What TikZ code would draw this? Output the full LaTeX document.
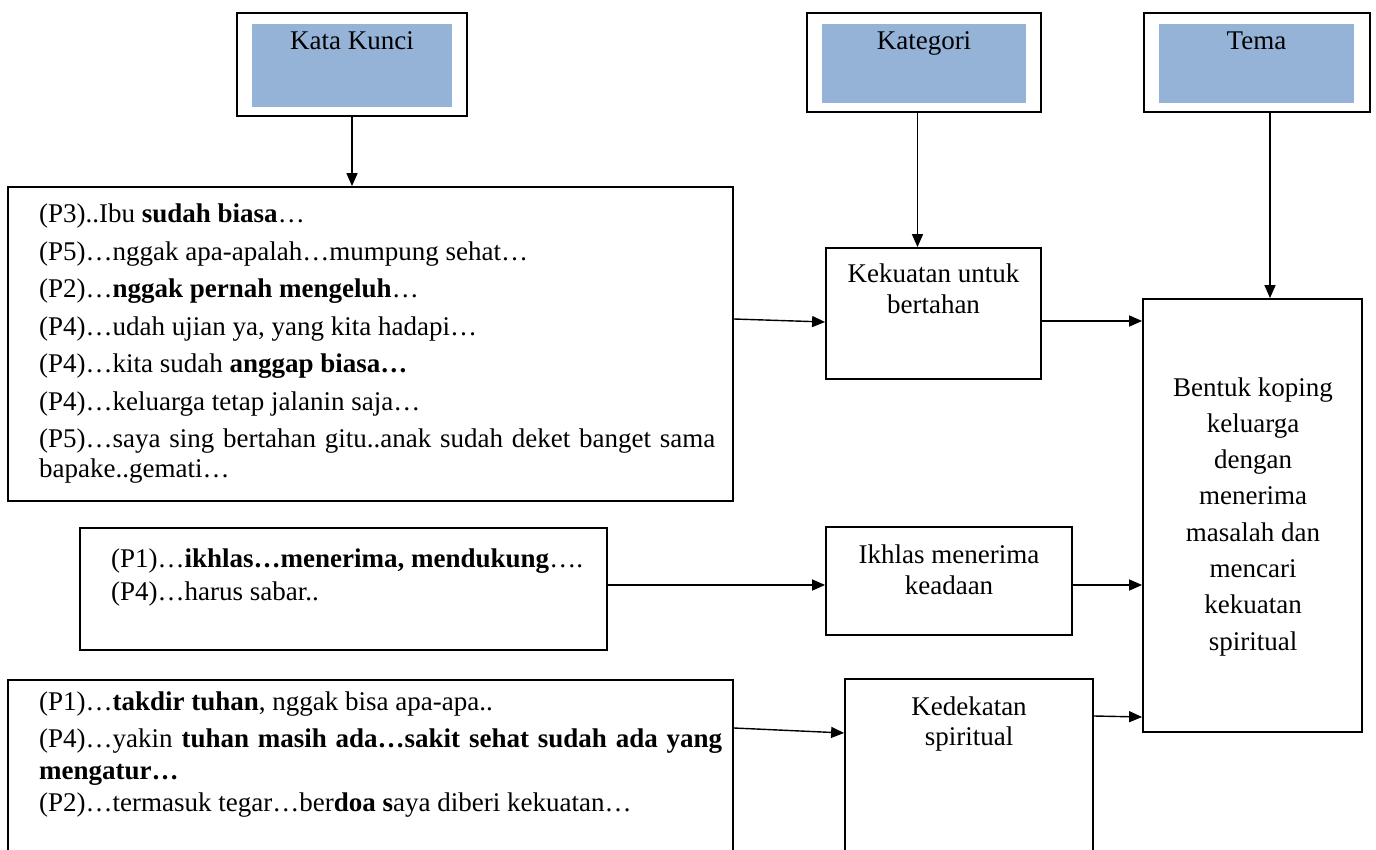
\documentclass[tikz,border=0pt]{standalone}
\usepackage{fontspec}
\setmainfont{Liberation Serif}
\usetikzlibrary{arrows.meta}
\definecolor{hdrblue}{HTML}{95B3D7}
\begin{document}
\begin{tikzpicture}[x=1pt,y=-1pt,
  font=\fontsize{27}{31}\selectfont,
  box/.style={draw=black,line width=1.8pt,inner sep=0pt,rectangle},
  hdr/.style={fill=hdrblue,inner sep=0pt,rectangle},
  txt/.style={anchor=base west,inner sep=0pt},
  ctr/.style={anchor=base,inner sep=0pt},
  arr/.style={line width=1.4pt,-{Triangle[length=13pt,width=11pt]}}]
\useasboundingbox (0,0) rectangle (1376,850);
\fill[white] (0,0) rectangle (1376,850);
\clip (0,0) rectangle (1376,850);

% header boxes
\node[box,minimum width=230pt,minimum height=103pt] (kkO) at (352,64.5) {};
\node[hdr,minimum width=200pt,minimum height=83pt] (kkI) at (352,65.5) {};
\node[ctr] (kkT) at (352,50) {Kata Kunci};
\node[box,minimum width=234pt,minimum height=99pt] (katO) at (924,62.5) {};
\node[hdr,minimum width=204pt,minimum height=79pt] (katI) at (924,63.5) {};
\node[ctr] (katT) at (924,50) {Kategori};
\node[box,minimum width=226pt,minimum height=99pt] (temO) at (1257,62.5) {};
\node[hdr,minimum width=195pt,minimum height=79pt] (temI) at (1256.5,63.5) {};
\node[ctr] (temT) at (1256.5,50) {Tema};

% quote boxes
\node[box,minimum width=725pt,minimum height=314pt] (b1) at (370.5,344) {};
\node[box,minimum width=527pt,minimum height=122pt] (b2) at (343.5,589) {};
\node[box,minimum width=725pt,minimum height=220pt] (b3) at (370.5,790) {};

% category boxes
\node[box,minimum width=215pt,minimum height=131pt] (kek) at (933.5,313.5) {};
\node[box,minimum width=246pt,minimum height=108pt] (ikh) at (949,581) {};
\node[box,minimum width=248pt,minimum height=221pt] (ked) at (969,789.5) {};
\node[box,minimum width=219pt,minimum height=433pt] (big) at (1252.5,515.5) {};

% box 1 text
\node[txt] (l1) at (39,223) {(P3)..Ibu \textbf{sudah biasa}…};
\node[txt] (l2) at (39,260.5) {(P5)…nggak apa-apalah…mumpung sehat…};
\node[txt] (l3) at (39,298) {(P2)…\textbf{nggak pernah mengeluh}…};
\node[txt] (l4) at (39,335) {(P4)…udah ujian ya, yang kita hadapi…};
\node[txt] (l5) at (39,372.5) {(P4)…kita sudah \textbf{anggap biasa…}};
\node[txt] (l6) at (39,410) {(P4)…keluarga tetap jalanin saja…};
\node[txt] (l7) at (39,447) {\makebox[676pt][s]{(P5)…saya sing bertahan gitu..anak sudah deket banget sama}};
\node[txt] (l8) at (39,477) {bapake..gemati…};

% box 2 text
\node[txt] (m1) at (111,567) {(P1)…\textbf{ikhlas…menerima, mendukung}….};
\node[txt] (m2) at (111,600) {(P4)…harus sabar..};

% box 3 text
\node[txt] (n1) at (39,710) {(P1)…\textbf{takdir tuhan}, nggak bisa apa-apa..};
\node[txt] (n2) at (39,747) {\makebox[683pt][s]{(P4)…yakin \textbf{tuhan masih ada…sakit sehat sudah ada yang}}};
\node[txt] (n3) at (39,779) {\textbf{mengatur…}};
\node[txt] (n4) at (39,811) {(P2)…termasuk tegar…ber\textbf{doa s}aya diberi kekuatan…};

% category texts
\node[ctr] (k1) at (933.5,283) {Kekuatan untuk};
\node[ctr] (k2) at (933.5,313) {bertahan};
\node[ctr] (i1) at (949,563) {Ikhlas menerima};
\node[ctr] (i2) at (949,594) {keadaan};
\node[ctr] (d1) at (969,715) {Kedekatan};
\node[ctr] (d2) at (969,745) {spiritual};

% theme text
\node[ctr] (t1) at (1253,396) {Bentuk koping};
\node[ctr] (t2) at (1253,432.3) {keluarga};
\node[ctr] (t3) at (1253,468.6) {dengan};
\node[ctr] (t4) at (1253,504.9) {menerima};
\node[ctr] (t5) at (1253,541.2) {masalah dan};
\node[ctr] (t6) at (1253,577.5) {mencari};
\node[ctr] (t7) at (1253,613.8) {kekuatan};
\node[ctr] (t8) at (1253,650.1) {spiritual};

% connectors
\draw[arr] (kkO.south) -- (kkO.south |- b1.north);
\draw[arr] ([xshift=-6.5pt]katO.south) -- ([xshift=-6.5pt]katO.south |- kek.north);
\draw[arr] ([xshift=13pt]temO.south) -- ([xshift=13pt]temO.south |- big.north);
\draw[arr] ([yshift=25pt]b1.east) -- ([yshift=-8.5pt]kek.west);
\draw[arr] ([yshift=-7.5pt]kek.east) -- ([yshift=-7.5pt]kek.east -| big.west);
\draw[arr] ([yshift=4pt]b2.east) -- ([yshift=4pt]b2.east -| ikh.west);
\draw[arr] ([yshift=-4pt]ikh.east) -- ([yshift=-4pt]ikh.east -| big.west);
\draw[arr] ([yshift=62pt]b3.east) -- ([yshift=56.5pt]ked.west);
\draw[arr] ([yshift=73.5pt]ked.east) -- ([yshift=-201.5pt]big.west);
\end{tikzpicture}
\end{document}
